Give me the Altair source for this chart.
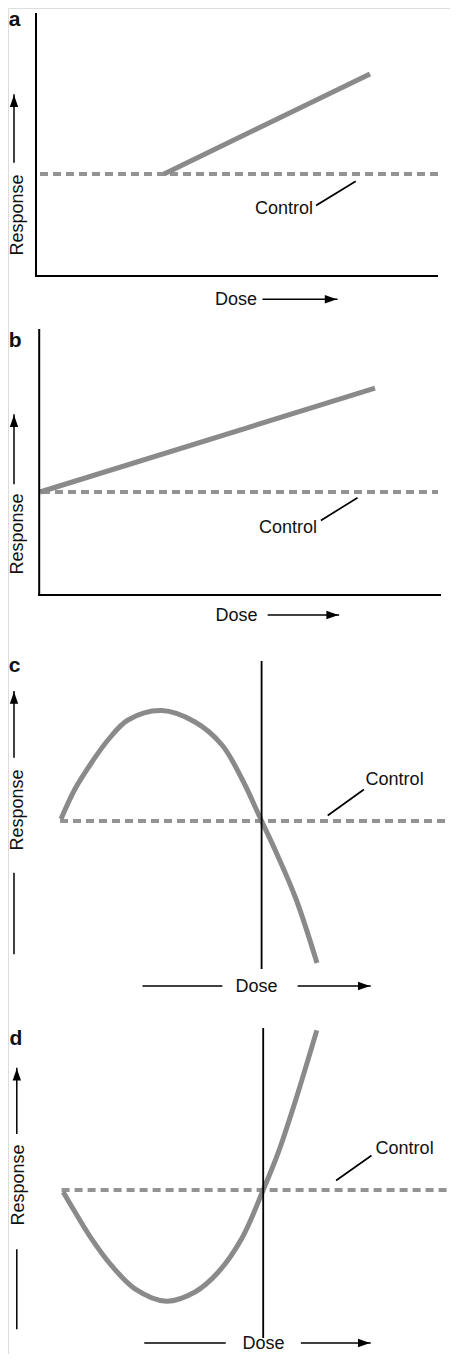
import altair as alt
import pandas as pd

# ---------------- data (schematic units: dose / response) ----------------
LETTERS = ["a", "b", "c", "d"]
X_DOMAIN = [-7, 103.5]
Y_DOMAIN = [0, 336.5]
# response level 0 of each panel on the common vertical scale
PANEL_BASE = [269.5, 189.75, 133.25, 41]

CURVE_DOSE = {
    "a": [32, 83.5],
    "b": [1, 84.75],
    "c": [6.25, 9.75, 14, 18, 23, 31.4, 39.75, 46.5, 51.5, 56.4, 60, 65, 70.25],
    "d": [6.8, 9.75, 13.9, 18.9, 24.75, 32.6, 39.75, 45.6, 51.4, 56.8, 60.6, 64.75, 70.2],
}
CURVE_RESP = {
    "a": [25.5, 50.5],
    "b": [25.75, 51.7],
    "c": [0.5, 8, 14.75, 20.25, 25.25, 27.6, 24.75, 19, 10.5, 0, -7.75, -19.5, -35.5],
    "d": [-0.5, -5.5, -12.2, -18.9, -24.7, -27.8, -25.5, -20.5, -12.2, 0, 9.45, 21.95, 39.9],
}

# control (dashed) level and extent
CONTROL_LEVEL = [25.5, 25.75, 0, 0]
CONTROL_FROM = [1, 1.5, 6, 6.4]
CONTROL_TO = [100.5, 100.5, 103.5, 103.5]

# drawn axes (panels a, b)
AXIS_ORIGIN_DOSE = [0, 0.8]
AXIS_Y_TOP = [65.5, 66.25]
AXIS_X_END = [100.25, 101]

# vertical reference line (panels c, d)
REF_DOSE = [56.4, 56.8]
REF_TOP = [39.8, 40.25]
REF_BOTTOM = [-36.75, -36.75]

# "Control" label and leader line
CTRL_LABEL_DOSE = [54.75, 55.75, 82.4, 84.9]
CTRL_LABEL_RESP = [16.7, 16.8, 10.25, 10.2]
LEADER_FROM_DOSE = [70.2, 71.4, 73.1, 75.2]
LEADER_FROM_RESP = [17.75, 18.75, 1.5, 2.5]
LEADER_TO_DOSE = [79.75, 80.2, 81.8, 83.7]
LEADER_TO_RESP = [23.6, 24.2, 7.75, 8.5]

# "Response" label with arrow
RESP_LABEL_DOSE = [-4.4, -4.4, -4.5, -4.2]
RESP_LABEL_RESP = [15.25, 15.25, 2.75, 1.25]
UP_DOSE = [-5.5, -5.5, -5.5, -4.8]
UP_FROM = [28.5, 27.9, 16, 14.2]
UP_TIP = [45.25, 45, 32.3, 30.4]
DOWN_DOSE = [-5.5, -4.8]          # panels c, d
DOWN_FROM = [-13.1, -15]
DOWN_TO = [-33.1, -34.6]

# "Dose" label with arrow
DOSE_LABEL_DOSE = [44.75, 44.9, 49.9, 51.6]
DOSE_LABEL_RESP = [-6, -5.25, -41.5, -38.5]
DOSE_ARROW_RESP = [-5.8, -5, -41.25, -38.25]
DOSE_ARROW_FROM = [56.8, 58.1, 65.6, 66.4]
DOSE_ARROW_TIP = [75.2, 75.6, 83.5, 83.5]
DOSE_LINE_FROM = [26.8, 27.25]     # panels c, d
DOSE_LINE_TO = [46.4, 47.25]

# panel letters
LETTER_DOSE = [-6.8, -6.8, -6.8, -6.6]
LETTER_RESP = [62.5, 62, 37.25, 36.25]

# ---------------- styling ----------------
CURVE_COLOR = "#8a8a8a"
CONTROL_COLOR = "#939393"
TEXT_COLOR = "#111111"
FONT = "Liberation Sans"
UP_PATH = "M0,0L0.7,2L-0.7,2Z"
RIGHT_PATH = "M0,0L-2,-0.7L-2,0.7Z"

# ---------------- tables built from the lists ----------------
curve_rows, control_rows, rule_rows, head_rows = [], [], [], []
label_rows, resp_rows, letter_rows = [], [], []

for i, L in enumerate(LETTERS):
    b = PANEL_BASE[i]
    for d, r in zip(CURVE_DOSE[L], CURVE_RESP[L]):
        curve_rows.append(dict(panel=L, x=d, y=r + b))
    control_rows.append(dict(panel=L, x=CONTROL_FROM[i], x2=CONTROL_TO[i], y=CONTROL_LEVEL[i] + b))
    if i < 2:
        o = AXIS_ORIGIN_DOSE[i]
        rule_rows.append(dict(x=o, y=b, x2=o, y2=AXIS_Y_TOP[i] + b, role="axis"))
        rule_rows.append(dict(x=o, y=b, x2=AXIS_X_END[i], y2=b, role="axis"))
    else:
        j = i - 2
        rule_rows.append(dict(x=REF_DOSE[j], y=REF_BOTTOM[j] + b, x2=REF_DOSE[j], y2=REF_TOP[j] + b, role="ref"))
        rule_rows.append(dict(x=DOWN_DOSE[j], y=DOWN_FROM[j] + b, x2=DOWN_DOSE[j], y2=DOWN_TO[j] + b, role="arrow"))
        rule_rows.append(dict(x=DOSE_LINE_FROM[j], y=DOSE_ARROW_RESP[i] + b, x2=DOSE_LINE_TO[j],
                              y2=DOSE_ARROW_RESP[i] + b, role="arrow"))
    rule_rows.append(dict(x=LEADER_FROM_DOSE[i], y=LEADER_FROM_RESP[i] + b, x2=LEADER_TO_DOSE[i],
                          y2=LEADER_TO_RESP[i] + b, role="leader"))
    rule_rows.append(dict(x=UP_DOSE[i], y=UP_FROM[i] + b, x2=UP_DOSE[i], y2=UP_TIP[i] + b, role="arrow"))
    rule_rows.append(dict(x=DOSE_ARROW_FROM[i], y=DOSE_ARROW_RESP[i] + b, x2=DOSE_ARROW_TIP[i],
                          y2=DOSE_ARROW_RESP[i] + b, role="arrow"))
    head_rows.append(dict(x=UP_DOSE[i], y=UP_TIP[i] + b, dir="up"))
    head_rows.append(dict(x=DOSE_ARROW_TIP[i], y=DOSE_ARROW_RESP[i] + b, dir="right"))
    label_rows.append(dict(x=CTRL_LABEL_DOSE[i], y=CTRL_LABEL_RESP[i] + b, t="Control"))
    label_rows.append(dict(x=DOSE_LABEL_DOSE[i], y=DOSE_LABEL_RESP[i] + b, t="Dose"))
    resp_rows.append(dict(x=RESP_LABEL_DOSE[i], y=RESP_LABEL_RESP[i] + b, t="Response"))
    letter_rows.append(dict(x=LETTER_DOSE[i], y=LETTER_RESP[i] + b, t=L))

xs = alt.Scale(domain=X_DOMAIN, nice=False, zero=False)
ys = alt.Scale(domain=Y_DOMAIN, nice=False, zero=False)
X = alt.X("x:Q", scale=xs, axis=None)
Y = alt.Y("y:Q", scale=ys, axis=None)

control = alt.Chart(pd.DataFrame(control_rows)).mark_rule(
    color=CONTROL_COLOR, strokeWidth=4, strokeDash=[8, 5]
).encode(x=X, x2="x2:Q", y=Y)

curve = alt.Chart(pd.DataFrame(curve_rows)).mark_line(
    color=CURVE_COLOR, strokeWidth=5, interpolate="catmull-rom"
).encode(x=X, y=Y, detail="panel:N", order="x:Q")

rules = alt.Chart(pd.DataFrame(rule_rows)).mark_rule(color="black", strokeCap="square").encode(
    x=X, y=Y, x2="x2:Q", y2="y2:Q",
    strokeWidth=alt.StrokeWidth(
        "role:N",
        scale=alt.Scale(domain=["axis", "ref", "leader", "arrow"], range=[2, 1.5, 1.5, 2]),
        legend=None,
    ),
)

heads = alt.Chart(pd.DataFrame(head_rows)).mark_point(
    filled=True, opacity=1, color="black", size=144, strokeWidth=0
).encode(
    x=X, y=Y,
    shape=alt.Shape("dir:N", scale=alt.Scale(domain=["up", "right"], range=[UP_PATH, RIGHT_PATH]),
                    legend=None),
)

labels = alt.Chart(pd.DataFrame(label_rows)).mark_text(
    font=FONT, fontSize=18, align="left", baseline="middle", color=TEXT_COLOR
).encode(x=X, y=Y, text="t:N")

resp_labels = alt.Chart(pd.DataFrame(resp_rows)).mark_text(
    font=FONT, fontSize=18, align="center", baseline="middle", angle=270, color=TEXT_COLOR
).encode(x=X, y=Y, text="t:N")

letters = alt.Chart(pd.DataFrame(letter_rows)).mark_text(
    font=FONT, fontSize=21, fontWeight="bold", align="left", baseline="alphabetic", color=TEXT_COLOR
).encode(x=X, y=Y, text="t:N")

chart = alt.layer(control, curve, rules, heads, labels, resp_labels, letters).properties(
    width=442,
    height=1346,
    padding=0,
    autosize=alt.AutoSizeParams(type="none"),
).configure_view(stroke=None).configure(background="white")

chart.save("out.html", embed_options={"renderer": "svg", "actions": False})
